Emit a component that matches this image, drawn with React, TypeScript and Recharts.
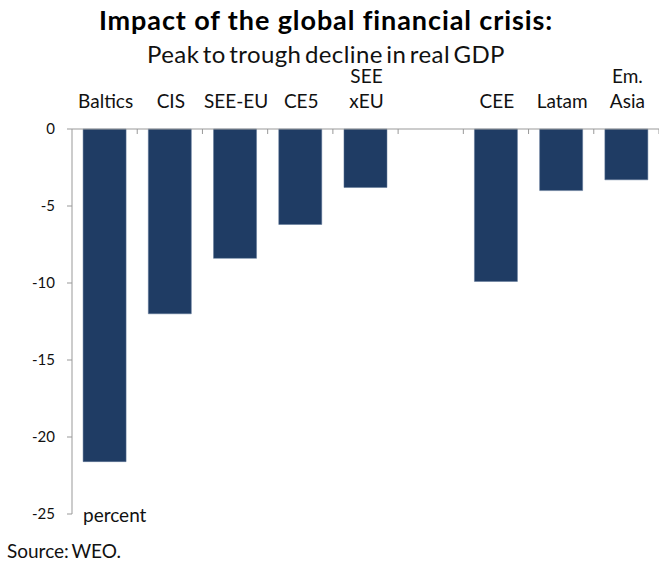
import React from "react";
import { Bar, BarChart, XAxis, YAxis } from "recharts";

const categories = ["Baltics", "CIS", "SEE-EU", "CE5", "SEE\nxEU", "", "CEE", "Latam", "Em.\nAsia"];
const declines = [-21.6, -12.0, -8.4, -6.2, -3.8, null, -9.9, -4.0, -3.3];
const yTicks = [0, -5, -10, -15, -20, -25];

const data = categories.map((name, i) => ({ name, value: declines[i] }));

const W = 659;
const H = 563;
const TOP = 129;
const AXIS_H = 60;
const LEFT = 72;
const BAND = (W - LEFT) / categories.length;
const FONT = "Lato, 'Open Sans', sans-serif";

function CategoryTick(props: any) {
  const { x, payload } = props;
  const lines: string[] = String(payload.value).split("\n");
  const right = x + BAND / 2;
  return (
    <g>
      <line x1={right} x2={right} y1={TOP} y2={TOP + 5} stroke="#999" />
      <text textAnchor="middle" fontSize={19} fill="#111" fontFamily={FONT}>
        {lines.map((l, i) => (
          <tspan key={i} x={x + 1} y={108 - (lines.length - 1 - i) * 25}>
            {l}
          </tspan>
        ))}
      </text>
    </g>
  );
}

export default function App() {
  return (
    <div style={{ position: "absolute", left: 0, top: 0, width: W, height: H, background: "#fff" }}>
      <BarChart
        width={W}
        height={H}
        data={data}
        margin={{ top: TOP - AXIS_H, right: 0, bottom: H - 514, left: 0 }}
        barCategoryGap="17%"
      >
        <XAxis
          dataKey="name"
          orientation="top"
          height={AXIS_H}
          interval={0}
          axisLine={{ stroke: "#999" }}
          tickLine={false}
          tick={<CategoryTick />}
        />
        <YAxis
          width={LEFT}
          domain={[-25, 0]}
          ticks={yTicks}
          interval={0}
          axisLine={{ stroke: "#999" }}
          tickLine={{ stroke: "#999" }}
          tickSize={5}
          tickMargin={12}
          tick={{ fontSize: 15, fill: "#111", fontFamily: FONT }}
        />
        <Bar dataKey="value" fill="#1F3C64" stroke="#5d7596" strokeWidth={0.5} isAnimationActive={false} />
      </BarChart>
      <svg width={W} height={H} style={{ position: "absolute", left: 0, top: 0, pointerEvents: "none" }} fontFamily={FONT}>
        <text x={326} y={30} textAnchor="middle" fontSize={27} fontWeight={700} letterSpacing={0.9} fill="#000">
          Impact of the global financial crisis:
        </text>
        <text x={326} y={63} textAnchor="middle" fontSize={24} wordSpacing={-3} letterSpacing={0.4} fill="#111">
          Peak to trough decline in real GDP
        </text>
        <text x={83} y={522} fontSize={19} fill="#111">
          percent
        </text>
        <text x={7} y={558} fontSize={19} wordSpacing={-2} fill="#111">
          Source: WEO.
        </text>
      </svg>
    </div>
  );
}
